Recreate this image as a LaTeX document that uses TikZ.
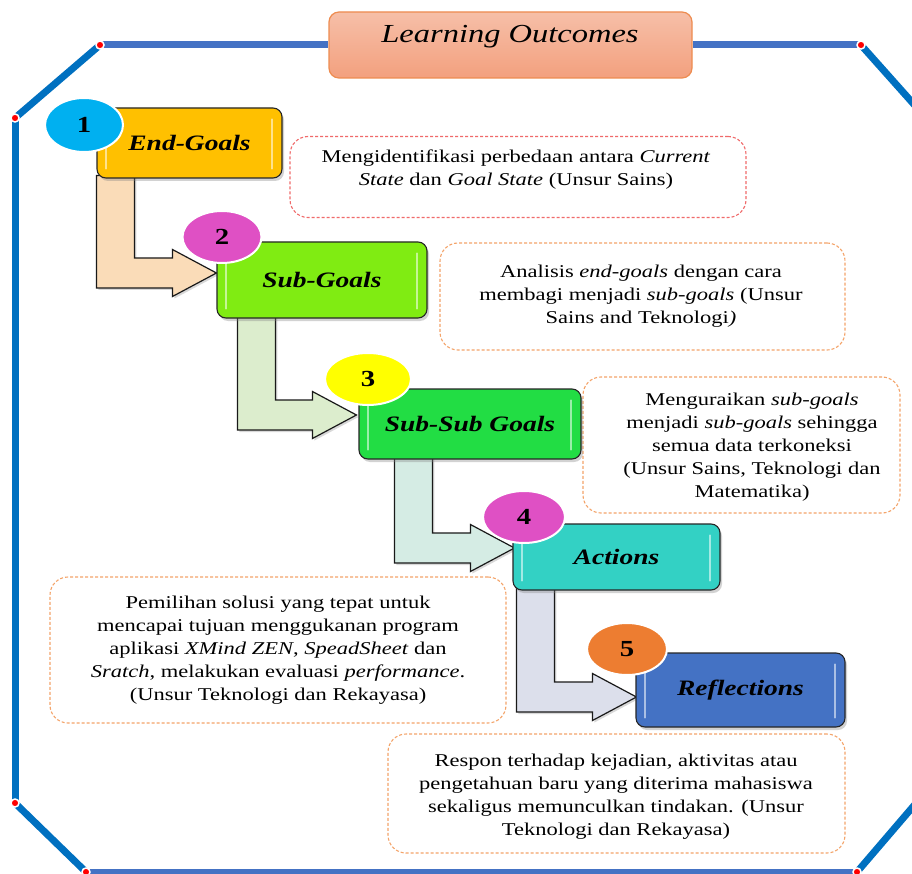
\documentclass[tikz,border=0pt]{standalone}
\usepackage{fontspec}
\setmainfont{Liberation Serif}[FakeStretch=1.25]
\usetikzlibrary{calc,shapes.geometric,shadows}

\definecolor{frameblue}{HTML}{0070C0}
\definecolor{lineblue}{HTML}{4472C4}
\definecolor{descred}{HTML}{F06A6A}
\definecolor{descorange}{HTML}{F4A46A}
\definecolor{goldfill}{HTML}{FFC000}
\definecolor{limefill}{HTML}{80EC12}
\definecolor{greenfill}{HTML}{22DD44}
\definecolor{tealfill}{HTML}{33D1C4}
\definecolor{bluefill}{HTML}{4472C4}
\definecolor{cyanbadge}{HTML}{00B0F0}
\definecolor{pinkbadge}{HTML}{DF50C4}
\definecolor{yellowbadge}{HTML}{FFFF00}
\definecolor{orangebadge}{HTML}{ED7D31}
\definecolor{arrowpeach}{HTML}{FADCB8}
\definecolor{arrowgreen}{HTML}{DCEDCD}
\definecolor{arrowmint}{HTML}{D5ECE4}
\definecolor{arrowgrey}{HTML}{DCDFEB}
\definecolor{titletop}{HTML}{F6BFA8}
\definecolor{titlebottom}{HTML}{F3A07E}
\definecolor{titleedge}{HTML}{EE8C50}

\pgfdeclarelayer{back}
\pgfdeclarelayer{arrowlayer}
\pgfsetlayers{back,arrowlayer,main}

\tikzset{
  frameline/.style={line width=7pt},
  joint/.style={circle, fill=red, draw=white, line width=1.5pt, inner sep=0pt, minimum size=8pt},
  titlebox/.style={rounded corners=10pt, draw=titleedge, line width=1.2pt,
    top color=titletop, bottom color=titlebottom,
    minimum width=363pt, minimum height=66pt},
  stepbox/.style={draw=black!85, line width=1.1pt, rounded corners=9pt,
    font=\fontsize{22}{26}\selectfont\bfseries\itshape,
    drop shadow={opacity=0.35, shadow xshift=2pt, shadow yshift=-3pt}},
  badge/.style={ellipse, draw=white, line width=2pt, inner sep=0pt,
    font=\fontsize{23}{26}\selectfont\bfseries},
  descbox/.style={dashed, dash pattern=on 3pt off 2pt, line width=1.1pt,
    rounded corners=18pt, fill=white},
  desctext/.style={align=center, font=\fontsize{18}{23}\selectfont, text=black},
  arrowbody/.style={draw=black!90, line width=1.2pt,
    drop shadow={opacity=0.3, shadow xshift=2pt, shadow yshift=-2pt}},
  shine/.style={white, opacity=0.55, line width=2pt, line cap=round}
}

% L-shaped block arrow: #1 top-left of the shaft, #2 tip, #3 fill colour
\newcommand\stepArrow[3]{%
  \draw[arrowbody, fill=#3] (#1) |- ($(#2)+(-44,15)$) -- ++(0,8.5) -- (#2)
    -- ++(-44,-23.5) -- ++(0,8.5) -| ($(#1)+(38,0)$) -- cycle;}

% light vertical glints inside a step box
\newcommand\boxShine[1]{%
  \draw[shine] ($(#1.north west)+(10,12)$) -- ($(#1.south west)+(10,-10)$);
  \draw[shine] ($(#1.north east)+(-11,12)$) -- ($(#1.south east)+(-11,-10)$);}

\begin{document}
\begin{tikzpicture}[x=1pt,y=-1pt]
\useasboundingbox (0,0) rectangle (912,874);
\clip (0,0) rectangle (912,874);

\begin{pgfonlayer}{back}
  \fill[white] (0,0) rectangle (912,874);
\end{pgfonlayer}

% ---------- title ----------
\node[titlebox] (title) at (510.5,45) {};
\node[font=\fontsize{26}{30}\selectfont\itshape] (titletext) at (510,37) {Learning Outcomes};

% ---------- octagonal frame ----------
\begin{pgfonlayer}{back}
  \coordinate (f1) at (100,45);
  \coordinate (f2) at (15,118);
  \coordinate (f3) at (15,803);
  \coordinate (f4) at (86,872);
  \coordinate (f5) at (857,872);
  \coordinate (f6) at (935,781);
  \coordinate (f7) at (935,128);
  \coordinate (f8) at (861,45);
  \draw[frameline, lineblue] (f1) -- (title.west);
  \draw[frameline, lineblue] (title.east) -- (f8);
  \draw[frameline, frameblue] (f1) -- (f2);
  \draw[frameline, frameblue] (f2) -- (f3);
  \draw[frameline, frameblue] (f3) -- (f4);
  \draw[frameline, lineblue] (f4) -- (f5);
  \draw[frameline, frameblue] (f5) -- (f6);
  \draw[frameline, frameblue] (f8) -- (f7);
  \foreach \p in {f1,f2,f3,f4,f5,f8} \node[joint] (j-\p) at (\p) {};

  % ---------- description boxes ----------
  \node[descbox, draw=descred, minimum width=456pt, minimum height=81pt] (d1box) at (518,177) {};
  \node[descbox, draw=descorange, minimum width=405pt, minimum height=107pt] (d2box) at (642.5,296.5) {};
  \node[descbox, draw=descorange, minimum width=317pt, minimum height=136pt] (d3box) at (741.5,445) {};
  \node[descbox, draw=descorange, minimum width=456pt, minimum height=146pt] (d4box) at (278,650) {};
  \node[descbox, draw=descorange, minimum width=457pt, minimum height=119pt] (d5box) at (616.5,793.5) {};

  \node[desctext] (d1) at (516,170) {Mengidentifikasi perbedaan antara \textit{Current}\\
    \textit{State} dan \textit{Goal State} (Unsur Sains)};
  \node[desctext] (d2) at (641,296) {Analisis \textit{end-goals} dengan cara\\
    membagi menjadi \textit{sub-goals} (Unsur\\ Sains and Teknologi\textit{)}};
  \node[desctext] (d3) at (752,447) {Menguraikan \textit{sub-goals}\\
    menjadi \textit{sub-goals} sehingga\\ semua data terkoneksi\\
    (Unsur Sains, Teknologi dan\\ Matematika)};
  \node[desctext] (d4) at (278,650) {Pemilihan solusi yang tepat untuk\\
    mencapai tujuan menggukanan program\\
    aplikasi \textit{XMind ZEN}, \textit{SpeadSheet} dan\\
    \textit{Sratch}, melakukan evaluasi \textit{performance}.\\
    (Unsur Teknologi dan Rekayasa)};
  \node[desctext] (d5) at (616,797) {Respon terhadap kejadian, aktivitas atau\\
    pengetahuan baru yang diterima mahasiswa\\
    sekaligus memunculkan tindakan. (Unsur\\ Teknologi dan Rekayasa)};
\end{pgfonlayer}

% ---------- step boxes ----------
\node[stepbox, fill=goldfill,  minimum width=185pt, minimum height=70pt] (b1) at (189.5,143) {End-Goals};
\node[stepbox, fill=limefill,  minimum width=210pt, minimum height=76pt] (b2) at (322,280) {Sub-Goals};
\node[stepbox, fill=greenfill, minimum width=222pt, minimum height=70pt] (b3) at (470,424) {Sub-Sub Goals};
\node[stepbox, fill=tealfill,  minimum width=207pt, minimum height=66pt] (b4) at (616.5,557) {Actions};
\node[stepbox, fill=bluefill,  minimum width=209pt, minimum height=74pt] (b5) at (740.5,690) {Reflections};
\foreach \b in {b1,b2,b3,b4,b5} {\boxShine{\b}}

% ---------- connecting block arrows ----------
\coordinate (s1) at ($(b1.south west)+(0,-3)$);
\coordinate (t1) at ($(b2.west)+(0,-7)$);
\coordinate (s2) at ($(b2.south west)+(21,-3)$);
\coordinate (t2) at ($(b3.west)+(-2,-9)$);
\coordinate (s3) at ($(b3.south west)+(36,-4)$);
\coordinate (t3) at ($(b4.west)+(2,-9)$);
\coordinate (s4) at ($(b4.south west)+(4,-4)$);
\coordinate (t4) at ($(b5.west)+(1,7)$);
\begin{pgfonlayer}{arrowlayer}
  \stepArrow{s1}{t1}{arrowpeach}
  \stepArrow{s2}{t2}{arrowgreen}
  \stepArrow{s3}{t3}{arrowmint}
  \stepArrow{s4}{t4}{arrowgrey}
\end{pgfonlayer}

% ---------- numbered badges ----------
\node[badge, fill=cyanbadge,   minimum width=78pt, minimum height=54pt] (n1) at (84,125) {1};
\node[badge, fill=pinkbadge,   minimum width=79pt, minimum height=52pt] (n2) at (222,237) {2};
\node[badge, fill=yellowbadge, minimum width=86pt, minimum height=52pt] (n3) at (368,379) {3};
\node[badge, fill=pinkbadge,   minimum width=82pt, minimum height=52pt] (n4) at (524,517) {4};
\node[badge, fill=orangebadge, minimum width=80pt, minimum height=52pt] (n5) at (627,649) {5};
\end{tikzpicture}
\end{document}
